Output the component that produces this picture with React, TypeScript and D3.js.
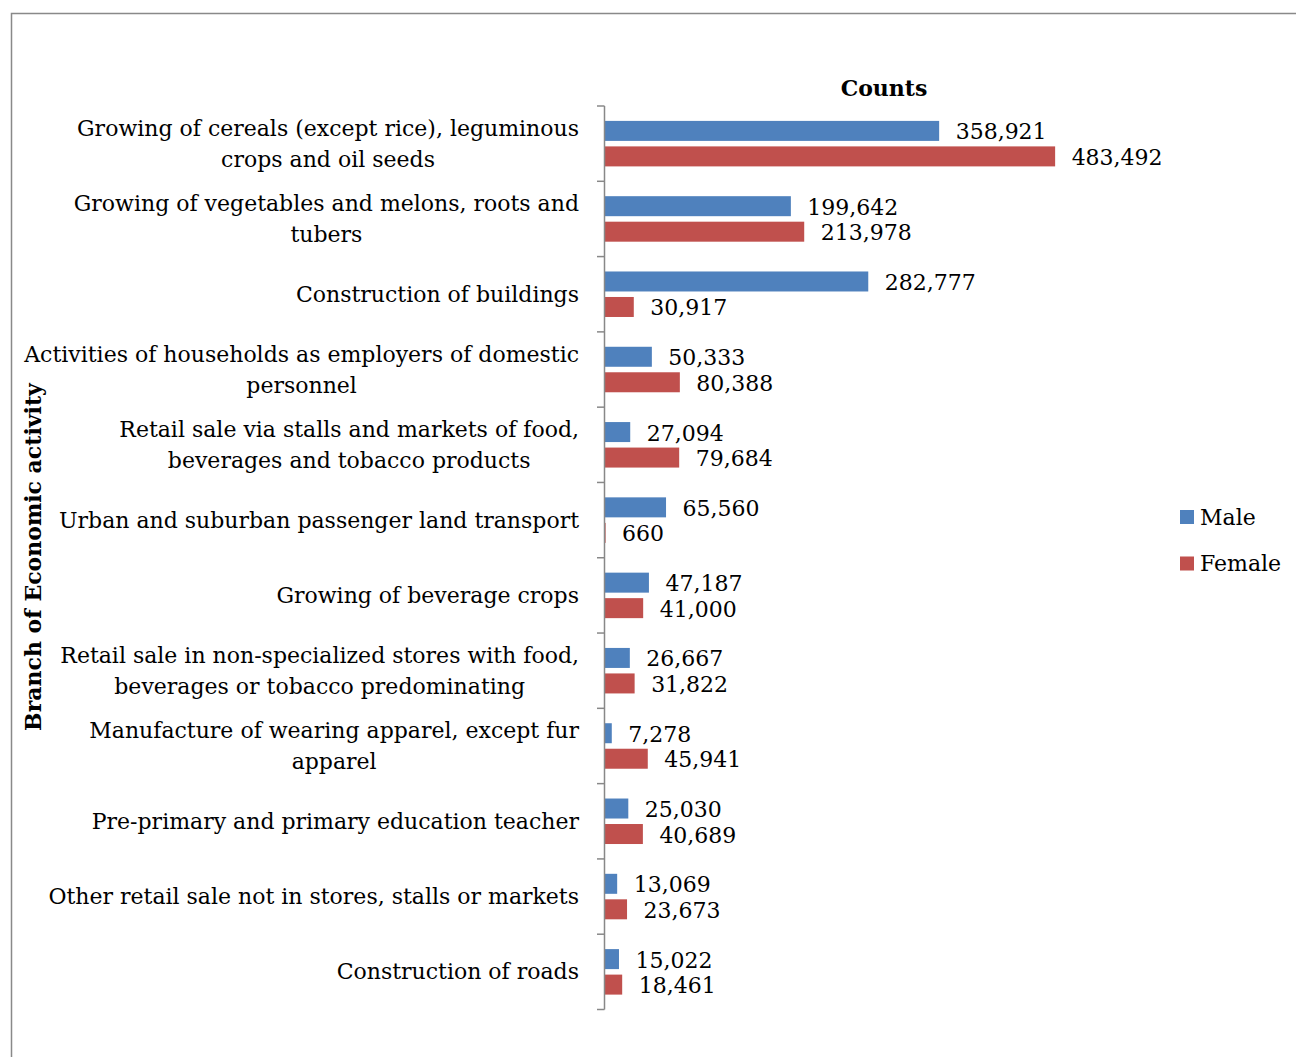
import React from "react";
import * as d3 from "d3";

const categories: string[][] = [
  ["Growing of cereals (except rice), leguminous", "crops and oil seeds"],
  ["Growing of vegetables and melons, roots and", "tubers"],
  ["Construction of buildings"],
  ["Activities of households as employers of domestic", "personnel"],
  ["Retail sale via stalls and markets of food,", "beverages and tobacco products"],
  ["Urban and suburban passenger land transport"],
  ["Growing of beverage crops"],
  ["Retail sale in non-specialized stores with food,", "beverages or tobacco predominating"],
  ["Manufacture of wearing apparel, except fur", "apparel"],
  ["Pre-primary and primary education teacher"],
  ["Other retail sale not in stores, stalls or markets"],
  ["Construction of roads"],
];
const maleValues = [358921, 199642, 282777, 50333, 27094, 65560, 47187, 26667, 7278, 25030, 13069, 15022];
const femaleValues = [483492, 213978, 30917, 80388, 79684, 660, 41000, 31822, 45941, 40689, 23673, 18461];
const seriesNames = ["Male", "Female"];
const seriesColors = ["#4F81BD", "#C0504D"];

const FONT = "'DejaVu Serif', serif";
const FS = 22;

let measureCtx: CanvasRenderingContext2D | null = null;
function textWidth(s: string): number {
  if (!measureCtx) {
    const c = document.createElement("canvas");
    measureCtx = c.getContext("2d");
  }
  if (!measureCtx) return s.length * FS * 0.55;
  measureCtx.font = `${FS}px 'DejaVu Serif', serif`;
  return measureCtx.measureText(s).width;
}

export default function App() {
  const W = 1296, H = 1057;
  const axisX = 604.5;
  const top = 106, bottom = 1009.5;
  const y = d3.scaleBand<number>().domain(d3.range(categories.length)).range([top, bottom]);
  const x = d3.scaleLinear().domain([0, 600000]).range([605, 605 + 558.6]);
  const fmt = d3.format(",");
  const bw = y.bandwidth();
  const barH = 20;
  const gap = 5.5;
  const series = [maleValues, femaleValues];
  const labelRight = 579;

  return (
    <svg width={W} height={H} style={{ position: "absolute", left: 0, top: 0, background: "#fff" }}>
      <rect x={11.5} y={13.5} width={W + 20} height={H + 20} fill="#fff" stroke="#898989" strokeWidth={1.5} />
      <text x={884} y={88} textAnchor="middle" dominantBaseline="central" fontFamily={FONT} fontWeight="bold" fontSize={FS}>Counts</text>
      <text transform={`translate(33,557) rotate(-90)`} textAnchor="middle" dominantBaseline="central" fontFamily={FONT} fontWeight="bold" fontSize={FS}>Branch of Economic activity</text>
      {series.map((vals, s) =>
        vals.map((v, i) => {
          const c = (y(i) as number) + bw / 2;
          const yTop = s === 0 ? c - gap / 2 - barH : c + gap / 2;
          return (
            <g key={`${s}-${i}`}>
              <rect x={x(0)} y={yTop} width={Math.max(0, x(v) - x(0))} height={barH} fill={seriesColors[s]} />
              <text x={x(v) + 16.5} y={yTop + barH / 2 + 1} dominantBaseline="central" fontFamily={FONT} fontSize={FS} fill="#000">{fmt(v)}</text>
            </g>
          );
        })
      )}
      <line x1={axisX} x2={axisX} y1={top} y2={bottom} stroke="#888" strokeWidth={1.5} />
      {d3.range(categories.length + 1).map((i) => {
        const yy = top + i * bw;
        return <line key={i} x1={597} x2={axisX} y1={yy} y2={yy} stroke="#888" strokeWidth={1.5} />;
      })}
      {categories.map((lines, i) => {
        const c = (y(i) as number) + bw / 2;
        const lh = 31;
        const maxW = d3.max(lines, (l) => textWidth(l)) || 0;
        const cx = labelRight - maxW / 2;
        return (
          <text key={i} textAnchor="middle" fontFamily={FONT} fontSize={FS} fill="#000">
            {lines.map((l, k) => (
              <tspan key={k} x={cx} y={c + (k - (lines.length - 1) / 2) * lh} dominantBaseline="central">{l}</tspan>
            ))}
          </text>
        );
      })}
      {seriesNames.map((n, s) => {
        const cy = 517 + s * 46.5;
        return (
          <g key={n}>
            <rect x={1180} y={cy - 7} width={14} height={14} fill={seriesColors[s]} />
            <text x={1200} y={cy} dominantBaseline="central" fontFamily={FONT} fontSize={FS}>{n}</text>
          </g>
        );
      })}
    </svg>
  );
}
